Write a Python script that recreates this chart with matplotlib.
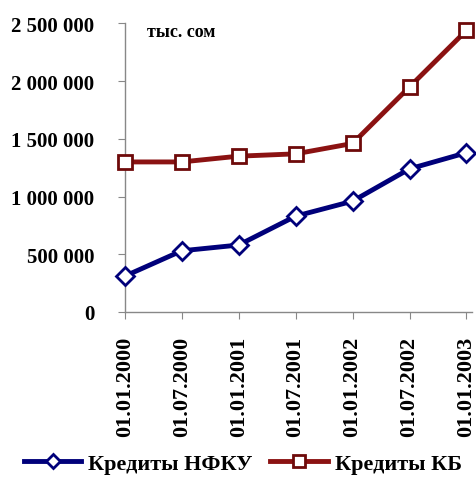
import matplotlib.pyplot as plt

plt.rcParams['font.family'] = ['Liberation Serif', 'DejaVu Serif']
plt.rcParams['font.weight'] = 'bold'

# data (тыс. сом)
dates = ['01.01.2000', '01.07.2000', '01.01.2001', '01.07.2001',
         '01.01.2002', '01.07.2002', '01.01.2003']
nfku = [310000, 530000, 580000, 830000, 960000, 1240000, 1380000]
kb = [1300000, 1300000, 1350000, 1370000, 1460000, 1950000, 2440000]
yticks = [0, 500000, 1000000, 1500000, 2000000, 2500000]

fig = plt.figure(figsize=(4.76, 4.89), dpi=100)
ax = fig.add_axes([0.262, 0.36, 0.73, 0.59])  # left, bottom, width, height

x = range(len(dates))
ax.plot(x, nfku, color='#00007a', lw=3.5, marker='D', markersize=9,
        markerfacecolor='white', markeredgecolor='#00007a', markeredgewidth=2,
        label='Кредиты НФКУ', zorder=3, clip_on=False)
ax.plot(x, kb, color='#8b1212', lw=3.5, marker='s', markersize=10.5,
        markerfacecolor='white', markeredgecolor='#6e0a0a', markeredgewidth=2,
        label='Кредиты КБ', zorder=3, clip_on=False)

ax.set_ylim(0, 2500000)
ax.set_xlim(0, len(dates) - 1 + 0.1)
ax.set_yticks(yticks)
ax.set_yticklabels([f'{v:,}'.replace(',', ' ') for v in yticks], fontsize=15, fontweight='bold')
ax.set_xticks(list(x))
ax.set_xticklabels(dates, rotation=90, fontsize=16, fontweight='bold')

for s in ['top', 'right']:
    ax.spines[s].set_visible(False)
for s in ['left', 'bottom']:
    ax.spines[s].set_color('#888888')
    ax.spines[s].set_linewidth(1)
ax.tick_params(axis='both', colors='#888888', length=5, labelcolor='black')
ax.tick_params(axis='y', pad=17)
ax.tick_params(axis='x', pad=12)

ax.text(0.4, 2430000, 'тыс. сом', fontsize=13, fontweight='bold', va='center')

fig.legend(loc='center', bbox_to_anchor=(0.51, 0.05), ncol=2, frameon=False,
           handlelength=2.6, columnspacing=0.8, handletextpad=0.3, markerscale=0.8,
           prop={'weight': 'bold', 'size': 16})

fig.savefig('out.png', dpi=100)
